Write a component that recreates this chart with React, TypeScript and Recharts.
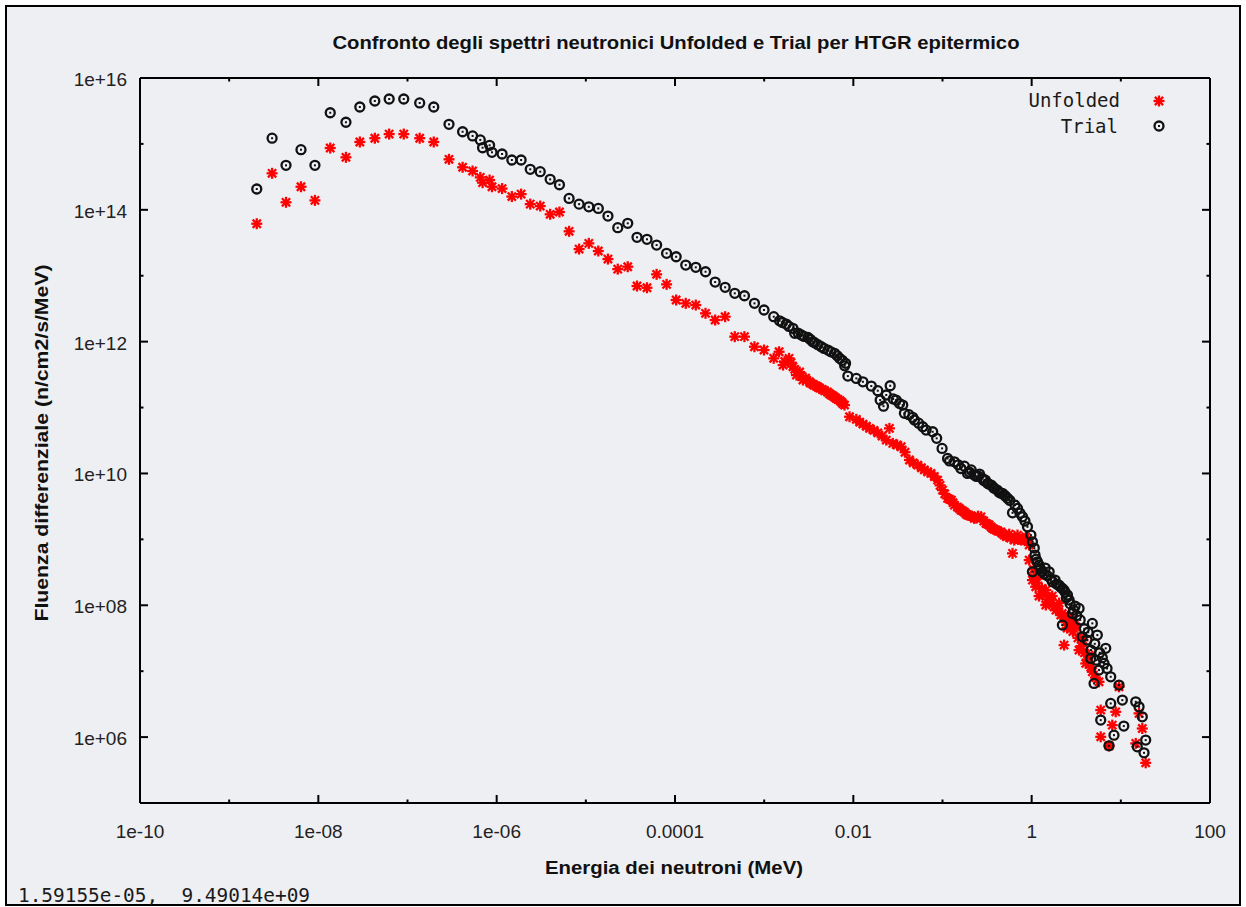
import React from 'react';
import { ScatterChart, Scatter, XAxis, YAxis } from 'recharts';

// energy grid shared by both spectra below ~1 keV (MeV)
const gridEnergy = [
  2.04e-9, 3.03e-9, 4.34e-9, 6.39e-9, 9.16e-9, 1.36e-8, 2.04e-8, 2.92e-8, 4.30e-8, 6.23e-8,
  9.08e-8, 1.37e-7, 1.97e-7, 2.92e-7, 4.15e-7, 5.37e-7, 6.55e-7, 6.95e-7, 8.33e-7, 8.86e-7,
  1.15e-6, 1.48e-6, 1.88e-6, 2.38e-6, 3.08e-6, 3.98e-6, 5.06e-6, 6.49e-6, 8.40e-6, 1.08e-5,
  1.38e-5, 1.77e-5, 2.28e-5, 2.95e-5, 3.75e-5, 4.85e-5, 6.22e-5, 8.05e-5, 1.03e-4, 1.32e-4,
  1.71e-4, 2.20e-4, 2.82e-4, 3.65e-4, 4.68e-4, 6.01e-4, 7.78e-4, 9.96e-4, 1.28e-3,
];

const unfoldedGridFluence = [
  6.15e13, 3.58e14, 1.30e14, 2.24e14, 1.39e14, 8.66e14, 6.26e14, 1.07e15, 1.22e15, 1.41e15,
  1.41e15, 1.22e15, 1.07e15, 5.84e14, 4.42e14, 3.88e14, 3.11e14, 2.58e14, 2.83e14, 2.24e14,
  2.10e14, 1.59e14, 1.73e14, 1.22e14, 1.14e14, 8.55e13, 9.26e13, 4.72e13, 2.54e13, 3.10e13,
  2.37e13, 1.79e13, 1.26e13, 1.37e13, 6.98e12, 6.57e12, 1.05e13, 7.40e12, 4.28e12, 3.81e12,
  3.59e12, 2.69e12, 2.13e12, 2.39e12, 1.19e12, 1.19e12, 8.37e11, 7.46e11, 5.58e11,
];

const trialGridFluence = [
  2.07e14, 1.22e15, 4.73e14, 8.17e14, 4.73e14, 2.97e15, 2.13e15, 3.63e15, 4.48e15, 4.80e15,
  4.80e15, 4.18e15, 3.63e15, 1.98e15, 1.53e15, 1.32e15, 1.15e15, 8.75e14, 9.53e14, 7.46e14,
  7.03e14, 5.70e14, 5.70e14, 4.12e14, 3.79e14, 2.90e14, 2.40e14, 1.49e14, 1.22e14, 1.11e14,
  1.05e14, 8.05e13, 5.35e13, 6.24e13, 3.83e13, 3.57e13, 2.92e13, 2.19e13, 1.94e13, 1.45e13,
  1.34e13, 1.15e13, 8.02e12, 6.67e12, 5.41e12, 4.97e12, 3.81e12, 3.02e12, 2.39e12,
];

// fine groups above 1 keV
const unfoldedTailEnergy = [
  1.47e-3, 1.63e-3, 1.90e-3, 2.10e-3, 2.30e-3, 2.50e-3, 2.72e-3, 2.92e-3, 3.23e-3, 3.49e-3,
  3.84e-3, 4.18e-3, 4.76e-3, 5.14e-3, 5.66e-3, 6.16e-3, 6.71e-3, 7.38e-3, 7.97e-3, 9.07e-3,
  1.08e-2, 1.28e-2, 1.52e-2, 1.88e-2, 2.34e-2, 2.54e-2, 2.77e-2, 3.44e-2, 4.26e-2, 5.27e-2,
  6.26e-2, 7.44e-2, 8.83e-2, 0.100, 0.114, 0.126, 0.136, 0.147, 0.161, 0.176,
  0.191, 0.210, 0.227, 0.270, 0.307, 0.334, 0.364, 0.401, 0.452, 0.492,
  0.52, 0.560, 0.610, 0.637, 0.66, 0.694, 0.763, 0.80, 0.861, 0.90,
  0.938, 0.938, 1.02, 1.11, 1.21, 1.21, 1.44, 1.44, 1.57, 1.70,
  1.87, 2.03, 2.12, 2.31, 2.42, 2.63, 3.12, 3.40, 3.77, 4.04,
  4.40, 4.79, 5.69, 5.95, 5.95, 7.37, 8.02, 8.76, 9.54, 14.7,
  16.0, 17.4, 19.0,
];

const unfoldedTailFluence = [
  7.02e11, 4.41e11, 5.58e11, 4.16e11, 3.11e11, 3.46e11, 2.61e11, 2.80e11, 2.46e11, 2.27e11,
  2.12e11, 1.98e11, 1.80e11, 1.72e11, 1.55e11, 1.44e11, 1.33e11, 1.21e11, 1.09e11, 7.25e10,
  6.62e10, 5.62e10, 4.83e10, 4.14e10, 3.21e10, 4.83e10, 2.86e10, 2.54e10, 1.60e10, 1.34e10,
  1.13e10, 1.00e10, 7.94e9, 5.59e9, 4.19e9, 3.95e9, 3.31e9, 3.09e9, 2.78e9, 2.59e9,
  2.34e9, 2.26e9, 2.08e9, 2.20e9, 1.75e9, 1.65e9, 1.47e9, 1.38e9, 1.30e9, 1.16e9,
  1.10e9, 1.20e9, 6.13e8, 9.75e8, 1.05e9, 1.16e9, 9.75e8, 1.00e9, 1.09e9, 9.50e8,
  8.19e8, 4.85e8, 2.41e8, 1.91e8, 2.87e8, 1.38e8, 1.70e8, 1.01e8, 1.20e8, 1.38e8,
  8.45e7, 1.08e8, 7.10e7, 2.49e7, 5.61e7, 6.85e7, 4.72e7, 2.09e7, 2.96e7, 1.31e7,
  1.75e7, 9.79e6, 6.90e6, 2.57e6, 1.01e6, 7.37e5, 1.52e6, 2.42e6, 5.79e6, 8.02e5,
  2.29e6, 1.35e6, 4.07e5,
];

// overlapping groups that make up the dense red band
const unfoldedClusterEnergy = [
  1.7e-3, 2.0e-3, 2.2e-3, 2.6e-3, 3.0e-3, 3.3e-3, 3.6e-3, 4.0e-3, 4.5e-3, 5.4e-3,
  5.9e-3, 6.4e-3, 7.1e-3, 7.6e-3, 1.18e-2, 1.4e-2, 1.7e-2, 2.1e-2, 3.1e-2, 3.8e-2,
  4.7e-2, 5.8e-2, 6.8e-2, 8.1e-2, 9.4e-2, 0.106, 0.12, 0.131, 0.154, 0.168,
  0.183, 0.2, 0.24, 0.25, 0.29, 0.32, 0.35, 0.38, 0.42, 0.47,
  0.58, 0.72, 0.83, 1.05, 1.08, 1.15, 1.3, 1.35, 1.5, 1.62,
  1.78, 1.95, 2.2, 2.35, 2.5, 2.75, 2.9, 3.0, 3.3, 3.6,
  3.9, 4.2, 4.6, 5.2,
];

const unfoldedClusterFluence = [
  5.0e11, 4.8e11, 3.8e11, 3.0e11, 2.6e11, 2.35e11, 2.2e11, 2.05e11, 1.88e11, 1.62e11,
  1.5e11, 1.38e11, 1.27e11, 1.15e11, 6.0e10, 5.2e10, 4.5e10, 3.7e10, 2.7e10, 2.1e10,
  1.45e10, 1.22e10, 1.06e10, 9.0e9, 6.6e9, 4.9e9, 4.05e9, 3.6e9, 2.95e9, 2.7e9,
  2.45e9, 2.3e9, 2.1e9, 2.25e9, 1.9e9, 1.7e9, 1.55e9, 1.42e9, 1.33e9, 1.22e9,
  1.05e9, 1.0e9, 1.02e9, 3.5e8, 2.6e8, 2.2e8, 1.8e8, 1.45e8, 1.1e8, 1.3e8,
  9.5e7, 9.0e7, 7.5e7, 6.2e7, 4.5e7, 5.5e7, 4.0e7, 5.0e7, 3.2e7, 2.4e7,
  1.9e7, 1.5e7, 1.15e7, 8.0e6,
];

const trialTailEnergy = [
  1.49e-3, 1.77e-3, 2.10e-3, 2.20e-3, 2.61e-3, 3.10e-3, 3.68e-3, 4.37e-3, 5.19e-3, 6.16e-3,
  7.01e-3, 8.18e-3, 8.68e-3, 1.08e-2, 1.28e-2, 1.59e-2, 1.88e-2, 2.18e-2, 2.34e-2, 2.59e-2,
  3.02e-2, 3.58e-2, 3.74e-2, 4.63e-2, 4.84e-2, 6.00e-2, 6.55e-2, 7.76e-2, 8.60e-2, 9.89e-2,
  0.114, 0.136, 0.161, 0.176, 0.191, 0.210, 0.227, 0.252, 0.281, 0.302,
  0.320, 0.352, 0.380, 0.411, 0.452, 0.492, 0.536, 0.610, 0.694, 0.789,
  0.897, 0.980, 1.02, 1.07, 1.09, 1.16, 1.02, 1.21, 1.32, 1.42,
  1.57, 1.71, 1.83, 2.03, 2.21, 2.37, 2.52, 2.63, 2.86, 3.07,
  3.40, 2.21, 3.70, 4.18, 4.79, 5.45, 4.63, 6.77, 4.60, 5.27,
  6.48, 5.69, 7.70, 5.01, 9.54, 10.4, 7.70, 14.7, 16.0, 17.4,
  5.95, 10.8, 8.38, 19.0, 15.3, 18.2, 7.37,
];

const trialTailFluence = [
  2.07e12, 1.85e12, 1.59e12, 1.34e12, 1.26e12, 1.16e12, 9.62e11, 8.36e11, 7.45e11, 6.64e11,
  5.58e11, 4.68e11, 3.00e11, 2.77e11, 2.46e11, 2.12e11, 1.80e11, 1.05e11, 1.55e11, 2.14e11,
  1.30e11, 1.09e11, 8.16e10, 7.10e10, 6.46e10, 5.11e10, 4.55e10, 4.29e10, 3.41e10, 2.40e10,
  1.69e10, 1.50e10, 1.19e10, 1.29e10, 1.00e10, 1.13e10, 9.45e9, 9.13e9, 8.42e9, 7.94e9,
  7.07e9, 6.66e9, 5.94e9, 5.59e9, 4.99e9, 4.70e9, 4.19e9, 2.53e9, 2.95e9, 2.20e9,
  1.55e9, 1.16e9, 9.19e8, 7.37e8, 5.77e8, 4.57e8, 3.22e8, 4.07e8, 3.22e8, 3.67e8,
  3.22e8, 2.27e8, 2.41e8, 2.02e8, 1.80e8, 1.58e8, 1.43e8, 1.20e8, 7.53e7, 9.72e7,
  8.97e7, 5.00e7, 3.32e7, 2.96e7, 5.31e7, 3.53e7, 2.09e7, 2.22e7, 1.56e7, 1.47e7,
  1.31e7, 1.04e7, 8.22e6, 6.52e6, 6.15e6, 3.64e6, 3.24e6, 3.43e6, 2.88e6, 2.03e6,
  1.81e6, 1.47e6, 1.07e6, 9.00e5, 7.12e5, 5.77e5, 7.37e5,
];

// overlapping groups that make up the dense black band
const trialClusterEnergy = [
  1.6e-3, 1.9e-3, 2.4e-3, 2.8e-3, 3.3e-3, 3.5e-3, 4.0e-3, 4.7e-3, 5.6e-3, 6.6e-3,
  7.5e-3, 8.0e-3, 2.0e-2, 2.8e-2, 3.3e-2, 4.2e-2, 5.4e-2, 0.12, 0.15, 0.2,
  0.24, 0.26, 0.29, 0.33, 0.37, 0.43, 0.47, 0.51, 0.57, 0.65,
  0.74, 0.84, 1.12, 1.25, 1.38, 1.5, 1.65, 1.9, 2.1, 2.3,
  2.45, 2.7, 2.95, 3.2, 3.5, 3.9, 4.3, 5.1, 5.8, 6.2,
  7.0,
];

const trialClusterFluence = [
  1.95e12, 1.7e12, 1.35e12, 1.2e12, 1.08e12, 1.0e12, 9.0e11, 7.9e11, 7.0e11, 6.1e11,
  5.2e11, 4.3e11, 1.3e11, 1.35e11, 1.15e11, 7.8e10, 5.8e10, 1.55e10, 1.35e10, 1.05e10,
  9.0e9, 9.8e9, 7.8e9, 6.9e9, 6.2e9, 5.2e9, 5.0e9, 4.5e9, 3.9e9, 3.3e9,
  2.5e9, 1.9e9, 5.0e8, 3.6e8, 3.0e8, 2.8e8, 2.5e8, 2.1e8, 1.9e8, 1.7e8,
  1.3e8, 1.05e8, 8.5e7, 7.0e7, 6.0e7, 4.4e7, 3.9e7, 2.6e7, 1.9e7, 1.6e7,
  1.1e7,
];

const xMajorTicks = [1e-10, 1e-8, 1e-6, 1e-4, 1e-2, 1, 100];
const xMajorLabels = ['1e-10', '1e-08', '1e-06', '0.0001', '0.01', '1', '100'];
const xMinorTicks = [1e-9, 1e-7, 1e-5, 1e-3, 1e-1, 10];
const yMajorTicks = [1e6, 1e8, 1e10, 1e12, 1e14, 1e16];
const yMajorLabels = ['1e+06', '1e+08', '1e+10', '1e+12', '1e+14', '1e+16'];
const yMinorTicks = [1e7, 1e9, 1e11, 1e13, 1e15];

const xTicks = [...xMajorTicks, ...xMinorTicks].sort((a, b) => a - b);
const yTicks = [...yMajorTicks, ...yMinorTicks].sort((a, b) => a - b);

const unfoldedEnergy = [...gridEnergy, ...unfoldedTailEnergy, ...unfoldedClusterEnergy];
const unfoldedFluence = [...unfoldedGridFluence, ...unfoldedTailFluence, ...unfoldedClusterFluence];
const trialEnergy = [...gridEnergy, ...trialTailEnergy, ...trialClusterEnergy];
const trialFluence = [...trialGridFluence, ...trialTailFluence, ...trialClusterFluence];
const unfoldedData = unfoldedEnergy.map((e, i) => ({ e, f: unfoldedFluence[i] }));
const trialData = trialEnergy.map((e, i) => ({ e, f: trialFluence[i] }));

const BG = '#eeeff3';
const tickFont = "'Liberation Sans', Arial, sans-serif";
const monoFont = "'DejaVu Sans Mono', 'Liberation Mono', monospace";
const boldFont = "'Liberation Sans Narrow', 'Liberation Sans', Arial";

function findMajor(list: number[], v: number) {
  return list.findIndex(t => Math.abs(Math.log10(t) - Math.log10(v)) < 1e-6);
}

function BottomTick(props: any) {
  const { x, y, payload } = props;
  const i = findMajor(xMajorTicks, payload.value);
  const len = i >= 0 ? 8 : 3.5;
  return (
    <g>
      <line x1={x} y1={y} x2={x} y2={y - len} stroke="#000" strokeWidth={2} />
      {i >= 0 && (
        <text x={x} y={y + 35} textAnchor="middle" fontFamily={tickFont} fontSize={19} fill="#222">
          {xMajorLabels[i]}
        </text>
      )}
    </g>
  );
}

function TopTick(props: any) {
  const { x, y, payload } = props;
  const len = findMajor(xMajorTicks, payload.value) >= 0 ? 8 : 3.5;
  return <line x1={x} y1={y} x2={x} y2={y + len} stroke="#000" strokeWidth={2} />;
}

function LeftTick(props: any) {
  const { x, y, payload } = props;
  const i = findMajor(yMajorTicks, payload.value);
  const len = i >= 0 ? 8 : 3.5;
  return (
    <g>
      <line x1={x} y1={y} x2={x + len} y2={y} stroke="#000" strokeWidth={2} />
      {i >= 0 && (
        <text x={x - 13} y={y + 8} textAnchor="end" fontFamily={tickFont} fontSize={19} fill="#222">
          {yMajorLabels[i]}
        </text>
      )}
    </g>
  );
}

function RightTick(props: any) {
  const { x, y, payload } = props;
  const len = findMajor(yMajorTicks, payload.value) >= 0 ? 8 : 3.5;
  return <line x1={x} y1={y} x2={x - len} y2={y} stroke="#000" strokeWidth={2} />;
}

function Star({ cx, cy }: { cx?: number; cy?: number }) {
  if (cx == null || cy == null) return null;
  const r = 5.5;
  const d = 4.1;
  return (
    <g stroke="#ff0000" strokeWidth={2.3}>
      <line x1={cx - r} y1={cy} x2={cx + r} y2={cy} />
      <line x1={cx} y1={cy - r} x2={cx} y2={cy + r} />
      <line x1={cx - d} y1={cy - d} x2={cx + d} y2={cy + d} />
      <line x1={cx - d} y1={cy + d} x2={cx + d} y2={cy - d} />
    </g>
  );
}

function Ring({ cx, cy }: { cx?: number; cy?: number }) {
  if (cx == null || cy == null) return null;
  return (
    <g>
      <circle cx={cx} cy={cy} r={4.5} fill="none" stroke="#111" strokeWidth={2.3} />
      <rect x={cx - 1} y={cy - 1} width={2} height={2} fill="#111" />
    </g>
  );
}

export default function App() {
  const axisLine = { stroke: '#000', strokeWidth: 2 };
  return (
    <div style={{ position: 'relative', width: 1246, height: 907, background: '#fff', overflow: 'hidden' }}>
      <style>{'body{margin:0}'}</style>
      <div
        style={{
          position: 'absolute', left: 5, top: 5, width: 1236, height: 901,
          boxSizing: 'border-box', border: '2px solid #000', background: BG,
        }}
      />
      <div style={{ position: 'absolute', left: 0, top: 0 }}>
        <ScatterChart width={1246} height={907} margin={{ top: 77, right: 35, bottom: 103, left: 0 }}>
          <XAxis
            xAxisId="b" dataKey="e" type="number" scale="log" domain={[1e-10, 100]} allowDataOverflow
            ticks={xTicks} interval={0} orientation="bottom" height={1} tickSize={0} tickMargin={0}
            axisLine={axisLine} tickLine={false} tick={<BottomTick />}
          />
          <XAxis
            xAxisId="t" dataKey="e" type="number" scale="log" domain={[1e-10, 100]} allowDataOverflow
            ticks={xTicks} interval={0} orientation="top" height={1} tickSize={0} tickMargin={0}
            axisLine={axisLine} tickLine={false} tick={<TopTick />}
          />
          <YAxis
            yAxisId="l" dataKey="f" type="number" scale="log" domain={[1e5, 1e16]} allowDataOverflow
            ticks={yTicks} interval={0} orientation="left" width={140} tickSize={0} tickMargin={0}
            axisLine={axisLine} tickLine={false} tick={<LeftTick />}
          />
          <YAxis
            yAxisId="r" dataKey="f" type="number" scale="log" domain={[1e5, 1e16]} allowDataOverflow
            ticks={yTicks} interval={0} orientation="right" width={1} tickSize={0} tickMargin={0}
            axisLine={axisLine} tickLine={false} tick={<RightTick />}
          />
          <Scatter name="Unfolded" data={unfoldedData} xAxisId="b" yAxisId="l" shape={<Star />} isAnimationActive={false} />
          <Scatter name="Trial" data={trialData} xAxisId="t" yAxisId="r" shape={<Ring />} isAnimationActive={false} />
        </ScatterChart>
      </div>
      <svg width={1246} height={907} style={{ position: 'absolute', left: 0, top: 0, pointerEvents: 'none' }}>
        <text
          x={676} y={49} textAnchor="middle" fontFamily={boldFont}
          fontWeight="bold" fontSize={19} textLength={687} lengthAdjust="spacingAndGlyphs" fill="#111"
        >
          Confronto degli spettri neutronici Unfolded e Trial per HTGR epitermico
        </text>
        <text
          x={674} y={874} textAnchor="middle" fontFamily={boldFont}
          fontWeight="bold" fontSize={18} textLength={258} lengthAdjust="spacingAndGlyphs" fill="#111"
        >
          Energia dei neutroni (MeV)
        </text>
        <text
          x={0} y={0} transform="translate(48 443) rotate(-90)" textAnchor="middle"
          fontFamily={boldFont} fontWeight="bold" fontSize={18}
          textLength={357} lengthAdjust="spacingAndGlyphs" fill="#111"
        >
          Fluenza differenziale (n/cm2/s/MeV)
        </text>
        <text x={1120} y={107} textAnchor="end" fontFamily={monoFont} fontSize={19} fill="#1a1a1a">Unfolded</text>
        <text x={1118} y={133} textAnchor="end" fontFamily={monoFont} fontSize={19} fill="#1a1a1a">Trial</text>
        <Star cx={1159} cy={101} />
        <Ring cx={1159} cy={126} />
        <text x={18} y={902} fontFamily={monoFont} fontSize={19} textLength={292} lengthAdjust="spacingAndGlyphs" fill="#1a1a1a" xmlSpace="preserve">
          1.59155e-05,  9.49014e+09
        </text>
      </svg>
    </div>
  );
}
